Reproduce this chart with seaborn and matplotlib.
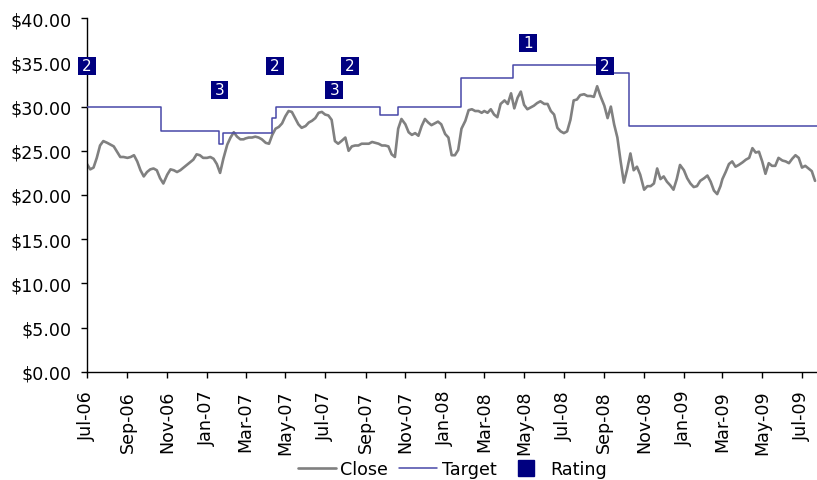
import numpy as np
import pandas as pd
import matplotlib
matplotlib.use("Agg")
import matplotlib.pyplot as plt
import matplotlib.dates as mdates
from matplotlib.ticker import FuncFormatter
from matplotlib.lines import Line2D
import seaborn as sns

# ---------------- data ----------------
close_months = ["2006-07", "2006-08", "2006-09", "2006-10", "2006-11", "2006-12",
                "2007-01", "2007-02", "2007-03", "2007-04", "2007-05", "2007-06",
                "2007-07", "2007-08", "2007-09", "2007-10", "2007-11", "2007-12",
                "2008-01", "2008-02", "2008-03", "2008-04", "2008-05", "2008-06",
                "2008-07", "2008-08", "2008-09", "2008-10", "2008-11", "2008-12",
                "2009-01", "2009-02", "2009-03", "2009-04", "2009-05", "2009-06",
                "2009-07"]
close_days = [1, 6, 11, 16, 21, 26]
close_values = [
    23.5, 22.9, 23.1, 24.2, 25.6, 26.1,
    25.9, 25.7, 25.5, 24.9, 24.3, 24.3,
    24.2, 24.3, 24.5, 23.8, 22.8, 22.1,
    22.6, 22.9, 23.0, 22.8, 21.9, 21.3,
    22.3, 22.9, 22.8, 22.6, 22.8, 23.1,
    23.4, 23.7, 24.0, 24.6, 24.5, 24.2,
    24.2, 24.3, 24.1, 23.5, 22.5, 24.1,
    25.7, 26.5, 27.1, 26.6, 26.3, 26.3,
    26.4, 26.5, 26.5, 26.6, 26.5, 26.3,
    25.9, 25.8, 26.8, 27.5, 27.7, 28.1,
    28.9, 29.5, 29.4, 28.7, 28.0, 27.6,
    27.8, 28.2, 28.4, 28.7, 29.3, 29.4,
    29.1, 29.0, 28.5, 26.1, 25.8, 26.1,
    26.5, 25.0, 25.5, 25.6, 25.6, 25.8,
    25.8, 25.8, 26.0, 25.9, 25.8, 25.6,
    25.6, 25.5, 24.6, 24.3, 27.5, 28.6,
    28.0, 27.1, 26.8, 27.0, 26.7, 27.8,
    28.6, 28.2, 27.9, 28.1, 28.3, 28.0,
    26.9, 26.5, 24.5, 24.5, 25.1, 27.5,
    28.4, 29.6, 29.7, 29.5, 29.5, 29.3,
    29.5, 29.3, 29.7, 29.1, 28.8, 30.3,
    30.7, 30.3, 31.5, 29.8, 31.0, 31.7,
    30.2, 29.7, 29.9, 30.1, 30.4, 30.6,
    30.3, 30.3, 29.5, 29.1, 27.6, 27.2,
    27.0, 27.2, 28.5, 30.7, 30.8, 31.3,
    31.4, 31.2, 31.2, 31.1, 32.3, 31.2,
    30.1, 28.7, 30.0, 28.0, 26.5, 23.8,
    21.4, 22.9, 24.7, 22.8, 23.2, 22.3,
    20.6, 21.0, 21.0, 21.3, 23.0, 21.8,
    22.1, 21.5, 21.1, 20.6, 21.8, 23.4,
    22.8, 21.9, 21.3, 20.9, 21.0, 21.6,
    21.9, 22.2, 21.5, 20.5, 20.1, 21.0,
    21.8, 22.6, 23.5, 23.8, 23.2, 23.4,
    23.7, 24.0, 24.2, 25.3, 24.8, 24.9,
    23.8, 22.4, 23.6, 23.3, 23.3, 24.2,
    23.9, 23.8, 23.6, 24.1, 24.5, 24.2,
    23.1, 23.3, 23.0, 22.7, 21.6,
]

target_dates = ["2006-07-01", "2006-10-22", "2007-01-19", "2007-01-26", "2007-04-10",
                "2007-04-16", "2007-09-23", "2007-10-21", "2008-01-25", "2008-04-14",
                "2008-09-01", "2008-10-09", "2009-07-24"]
target_values = [30.00, 27.25, 25.75, 27.00, 28.75, 30.00, 29.00, 30.00, 33.25, 34.75,
                 33.75, 27.75, 27.75]

rating_dates = ["2006-07-01", "2007-01-20", "2007-04-15", "2007-07-15", "2007-08-08",
                "2008-05-07", "2008-09-02"]
rating_values = [2, 3, 2, 3, 2, 1, 2]
rating_levels = [34.6, 31.9, 34.6, 31.9, 34.6, 37.2, 34.6]

x_start, x_end = "2006-07-01", "2009-07-24"
x_tick_dates = pd.date_range("2006-07-01", "2009-07-01", freq="2MS")
y_ticks = [0, 5, 10, 15, 20, 25, 30, 35, 40]

# ---------------- frames ----------------
all_dates = [pd.Timestamp(f"{m}-{d:02d}") for m in close_months for d in close_days]
close_df = pd.DataFrame({"date": all_dates[:len(close_values)], "close": close_values})
target_df = pd.DataFrame({"date": pd.to_datetime(target_dates), "target": target_values})
rating_df = pd.DataFrame({"date": pd.to_datetime(rating_dates), "level": rating_levels,
                          "rating": rating_values})

# ---------------- style ----------------
sns.set_theme(style="white")
plt.rcParams["font.family"] = ["DejaVu Sans"]
plt.rcParams["text.color"] = "black"
plt.rcParams["xtick.color"] = "black"
plt.rcParams["ytick.color"] = "black"
FS = 12.6

GRAY = "#808080"
TBLUE = "#4848A8"
NAVY = "#000080"

fig = plt.figure(figsize=(8.17, 4.81), dpi=100)
ax = fig.add_axes([87 / 817, 1 - 372.8 / 481, 730 / 817, 353.6 / 481])

sns.lineplot(data=close_df, x="date", y="close", ax=ax, color=GRAY, lw=1.9,
             legend=False, zorder=2)
sns.lineplot(data=target_df, x="date", y="target", ax=ax, color=TBLUE, lw=1.1,
             drawstyle="steps-post", legend=False, zorder=3)
sns.scatterplot(data=rating_df, x="date", y="level", ax=ax, marker="s", s=165,
                color=NAVY, edgecolor="none", legend=False, zorder=5, clip_on=False)
for d, lv, r in zip(rating_df["date"], rating_df["level"], rating_df["rating"]):
    ax.text(d, lv, str(r), color="white", fontsize=11, ha="center", va="center",
            zorder=6, clip_on=False)

ax.set_xlim(pd.Timestamp(x_start), pd.Timestamp(x_end))
ax.set_ylim(0, 40)
ax.set_xticks(x_tick_dates)
ax.xaxis.set_major_formatter(mdates.DateFormatter("%b-%y"))
ax.set_yticks(y_ticks)
ax.yaxis.set_major_formatter(FuncFormatter(lambda v, p: f"${v:.2f}"))
ax.set_xlabel("")
ax.set_ylabel("")

for s in ["top", "right"]:
    ax.spines[s].set_visible(False)
for s in ["left", "bottom"]:
    ax.spines[s].set_color("black")
    ax.spines[s].set_linewidth(1.0)

ax.tick_params(axis="y", which="major", direction="out", length=4.5, width=1,
               color="black", labelcolor="black", pad=6.5, labelsize=FS, left=True)
ax.tick_params(axis="x", which="major", direction="out", length=4, width=1,
               color="black", labelcolor="black", pad=9, labelsize=FS, bottom=True,
               labelrotation=90)
for lab in ax.get_xticklabels():
    lab.set_va("top")
    lab.set_ha("center")

handles = [Line2D([], [], color=GRAY, lw=1.9),
           Line2D([], [], color=TBLUE, lw=1.1),
           Line2D([], [], marker="s", ls="none", color=NAVY, markersize=11)]
leg = ax.legend(handles, ["Close", "Target", "Rating"], loc="center",
                bbox_to_anchor=(0.5, (372.8 - 470) / 353.6), ncol=3, frameon=False,
                fontsize=FS, handlelength=2.2, handletextpad=0.25, columnspacing=0.6)
for t in leg.get_texts():
    t.set_color("black")

fig.savefig("out.png", dpi=100)
